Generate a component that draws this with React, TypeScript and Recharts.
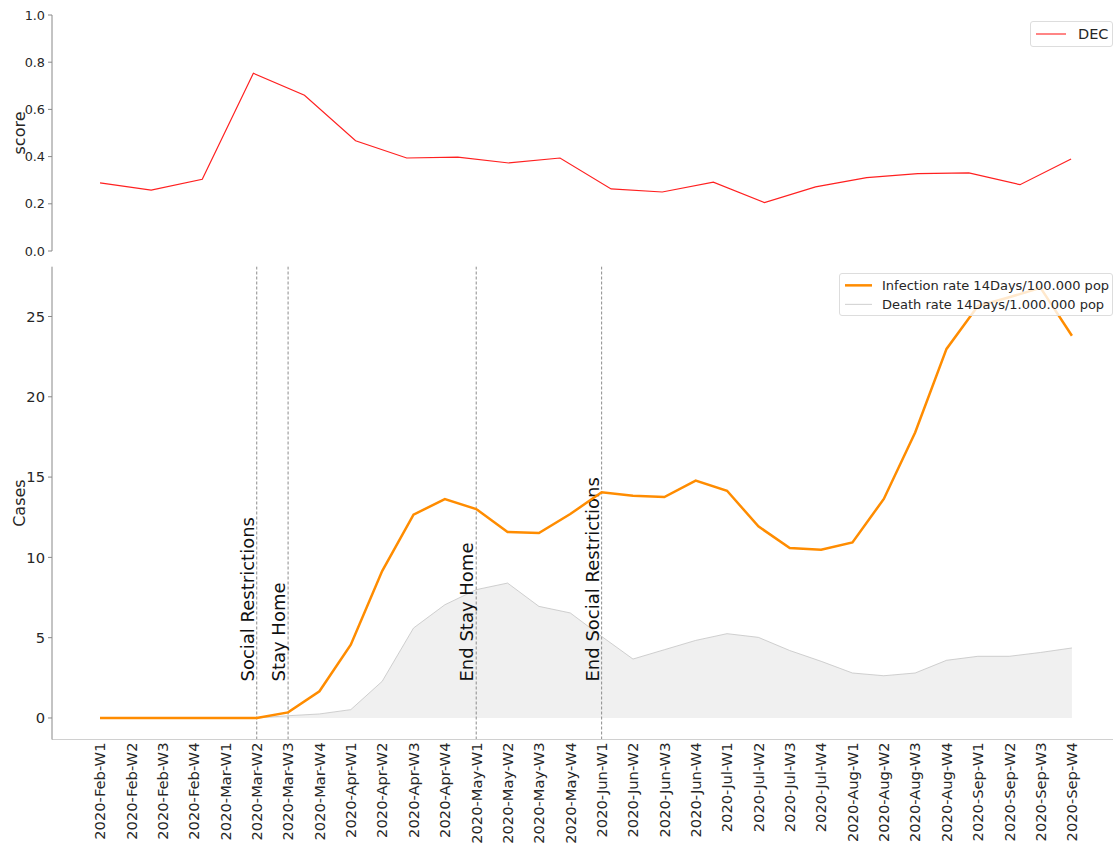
import { Area, ComposedChart, Legend, Line, LineChart, ReferenceLine, XAxis, YAxis } from "recharts"

const weeks = [
  "2020-Feb-W1", "2020-Feb-W2", "2020-Feb-W3", "2020-Feb-W4",
  "2020-Mar-W1", "2020-Mar-W2", "2020-Mar-W3", "2020-Mar-W4",
  "2020-Apr-W1", "2020-Apr-W2", "2020-Apr-W3", "2020-Apr-W4",
  "2020-May-W1", "2020-May-W2", "2020-May-W3", "2020-May-W4",
  "2020-Jun-W1", "2020-Jun-W2", "2020-Jun-W3", "2020-Jun-W4",
  "2020-Jul-W1", "2020-Jul-W2", "2020-Jul-W3", "2020-Jul-W4",
  "2020-Aug-W1", "2020-Aug-W2", "2020-Aug-W3", "2020-Aug-W4",
  "2020-Sep-W1", "2020-Sep-W2", "2020-Sep-W3", "2020-Sep-W4",
]

const infectionRate = [
  0, 0, 0, 0, 0, 0, 0.35, 1.66,
  4.56, 9.15, 12.66, 13.63, 13.01, 11.58, 11.52, 12.7,
  14.05, 13.84, 13.76, 14.78, 14.15, 11.93, 10.58, 10.48,
  10.93, 13.64, 17.78, 22.98, 25.65, 26.2, 26.78, 23.8,
]

const deathRate = [
  0, 0, 0, 0, 0, 0, 0.14, 0.25,
  0.52, 2.28, 5.6, 7.05, 7.99, 8.4, 6.95, 6.54,
  5.08, 3.67, 4.25, 4.83, 5.25, 5.02, 4.2, 3.53,
  2.8, 2.63, 2.8, 3.59, 3.84, 3.84, 4.08, 4.36,
]

const decScore = [
  0.289, 0.258, 0.304, 0.753, 0.66, 0.467, 0.394, 0.398, 0.373, 0.394,
  0.263, 0.25, 0.292, 0.205, 0.272, 0.311, 0.328, 0.331, 0.281, 0.39,
]

const scoreTicks = [0, 0.2, 0.4, 0.6, 0.8, 1.0]
const caseTicks = [0, 5, 10, 15, 20, 25]

const events = [
  { week: "2020-Mar-W2", label: "Social Restrictions" },
  { week: "2020-Mar-W3", label: "Stay Home" },
  { week: "2020-May-W1", label: "End Stay Home" },
  { week: "2020-Jun-W1", label: "End Social Restrictions" },
]

const font = "'DejaVu Sans', sans-serif"
const textColor = "#262626"

const scoreData = decScore.map((v, i) => ({ i, dec: v }))
const caseData = weeks.map((w, i) => ({ i, week: w, infection: infectionRate[i], death: deathRate[i] }))

// rotated axis title, x is the baseline position
function yTitle(text: string, x: number) {
  return (props: any) => {
    const vb = props.viewBox || {}
    const cy = vb.y + vb.height / 2
    return (
      <text x={x} y={cy} transform={`rotate(-90 ${x} ${cy})`} textAnchor="middle"
        fontSize={16} fill={textColor} fontFamily={font}>
        {text}
      </text>
    )
  }
}

function WeekTick(props: any) {
  const { x, y, payload } = props
  return (
    <g transform={`translate(${x},${y})`}>
      <text transform="rotate(-90)" x={0} y={0} dy="0.36em" textAnchor="end" fontSize={14.7} fill={textColor} fontFamily={font}>
        {weeks[payload.value]}
      </text>
    </g>
  )
}

function eventLabel(text: string) {
  return (props: any) => {
    const vb = props.viewBox || {}
    const x = vb.x - 3
    const y = 421.5
    return (
      <text x={x} y={y} transform={`rotate(-90 ${x} ${y})`} textAnchor="start" fontSize={18} fill="#111" fontFamily={font}>
        {text}
      </text>
    )
  }
}

type LegendItem = { name: string; color: string; width: number }

function legendBox(items: LegendItem[], fontSize: number, lineLen: number, gap: number, rowH: number, pad: string) {
  return () => (
    <div style={{
      border: "1px solid #ddd", borderRadius: 3, background: "rgba(255,255,255,0.8)", padding: pad,
      fontFamily: font, fontSize, color: textColor, boxSizing: "border-box",
    }}>
      {items.map((it) => (
        <div key={it.name} style={{ display: "flex", alignItems: "center", height: rowH, whiteSpace: "nowrap" }}>
          <svg width={lineLen} height={rowH} style={{ marginRight: gap, flex: "none" }}>
            <line x1={0} x2={lineLen} y1={rowH / 2} y2={rowH / 2} stroke={it.color} strokeWidth={it.width} />
          </svg>
          <span>{it.name}</span>
        </div>
      ))}
    </div>
  )
}

export default function App() {
  return (
    <div style={{ position: "absolute", left: 0, top: 0, width: 1115, height: 845, background: "#fff", fontFamily: font }}>
      <div style={{ position: "absolute", left: 0, top: 0 }}>
        <LineChart width={1115} height={260} data={scoreData} margin={{ top: 15, right: 2, bottom: 9, left: 0 }}>
          <XAxis dataKey="i" type="number" domain={[-0.94, 19.82]} height={0} tick={false} tickLine={false}
            axisLine={{ stroke: "#d6d6d6" }} allowDataOverflow />
          <YAxis width={52} domain={[0, 1]} ticks={scoreTicks} tickFormatter={(v: number) => v.toFixed(1)}
            tick={{ fontSize: 12.8, fill: textColor, fontFamily: font }} tickSize={4} tickMargin={3}
            axisLine={{ stroke: "#888" }} tickLine={{ stroke: "#888" }} label={yTitle("score", 24.5)} />
          <Legend layout="vertical" align="center" verticalAlign="middle"
            wrapperStyle={{ left: 1030, top: 21, width: 83 }}
            content={legendBox([{ name: "DEC", color: "#ff5c5c", width: 1.5 }], 14.5, 30, 12, 20, "2px 5px")} />
          <Line type="linear" dataKey="dec" name="DEC" stroke="#ff2020" strokeWidth={1.2} dot={false} isAnimationActive={false} />
        </LineChart>
      </div>
      <div style={{ position: "absolute", left: 0, top: 260 }}>
        <ComposedChart width={1115} height={585} data={caseData} margin={{ top: 6.7, right: 2, bottom: 0, left: 0 }}>
          <XAxis dataKey="i" type="number" domain={[-1.53, 32.31]} ticks={weeks.map((_, i) => i)} interval={0}
            height={105.5} tick={<WeekTick />} tickLine={false} tickSize={0} tickMargin={3}
            axisLine={{ stroke: "#d0d0d0" }} allowDataOverflow />
          <YAxis width={52} domain={[-1.34, 28.1]} ticks={caseTicks} allowDataOverflow
            tick={{ fontSize: 14.7, fill: textColor, fontFamily: font }} tickSize={4} tickMargin={3}
            axisLine={{ stroke: "#888" }} tickLine={{ stroke: "#888" }} label={yTitle("Cases", 25)} />
          <Legend layout="vertical" align="center" verticalAlign="middle"
            wrapperStyle={{ left: 839, top: 13, width: 274 }}
            content={legendBox([
              { name: "Infection rate 14Days/100.000 pop", color: "#ff8c00", width: 2.5 },
              { name: "Death rate 14Days/1.000.000 pop", color: "#cfcfcf", width: 1 },
            ], 13, 27, 10, 18.7, "2px 5px")} />
          <Area type="linear" dataKey="death" name="Death rate 14Days/1.000.000 pop" baseValue={0}
            stroke="#c4c4c4" strokeWidth={0.8} fill="#f0f0f0" fillOpacity={1} isAnimationActive={false} />
          {events.map((e) => (
            <ReferenceLine key={e.week} x={weeks.indexOf(e.week)} stroke="#8c8c8c" strokeDasharray="3 2"
              strokeWidth={1} label={eventLabel(e.label)} />
          ))}
          <Line type="linear" dataKey="infection" name="Infection rate 14Days/100.000 pop" stroke="#ff8c00"
            strokeWidth={2.5} dot={false} isAnimationActive={false} />
        </ComposedChart>
      </div>
    </div>
  )
}
